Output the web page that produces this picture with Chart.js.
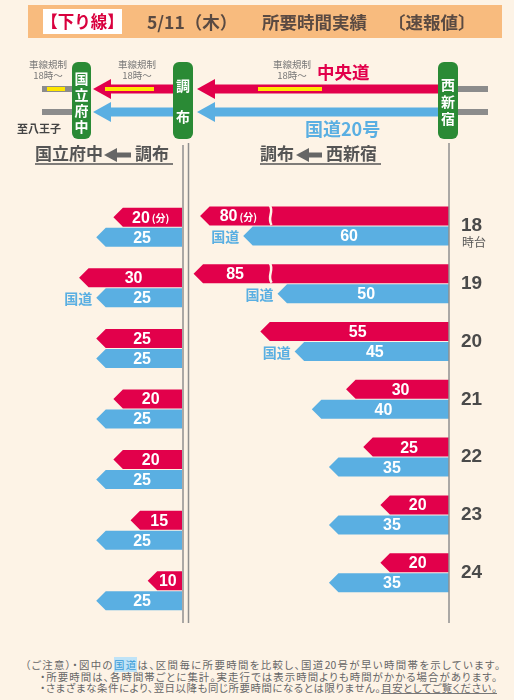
<!DOCTYPE html>
<html lang="ja">
<head>
<meta charset="utf-8">
<title>下り線 所要時間実績</title>
<script src="https://cdn.jsdelivr.net/npm/chart.js@4.4.1/dist/chart.umd.min.js"></script>
<style>
  html, body { margin: 0; padding: 0; }
  body {
    width: 514px; height: 700px; overflow: hidden; position: relative;
    background: #fdf3e6;
    font-family: "Noto Sans CJK JP", "Noto Sans", sans-serif;
  }
  #diagram { position: absolute; left: 0; top: 0; z-index: 2; pointer-events: none; font-family: "Noto Sans CJK JP", sans-serif; }
  .chart-box { position: absolute; top: 140px; height: 485px; }
  #leftBox { left: 0; width: 186px; }
  #rightBox { left: 186px; width: 328px; }
  #notes {
    position: absolute; left: 25px; top: 659px;
    font-size: 10.4px; line-height: 11.6px; color: #666; white-space: nowrap;
    font-feature-settings: "palt";
  }
  #notes div { text-align: justify; text-align-last: justify; }
  #notes .first { width: 475px; }
  #notes .ind { margin-left: 15px; width: 457px; }
  #notes .hl { background: #bfe3f7; color: #3c9bd6; }
  #notes u { text-decoration-color: #777; }
</style>
</head>
<body>

<svg id="diagram" width="514" height="170" viewBox="0 0 514 170">
  <!-- title band -->
  <rect x="28" y="5" width="474" height="33" fill="#f8bb7e"/>
  <rect x="43" y="9" width="79" height="25" fill="#fff"/>
  <text x="82.5" y="28" text-anchor="middle" fill="#d9003e" font-size="16.5" font-weight="bold">【下り線】</text>
  <g fill="#5a4a42" font-size="17.5" font-weight="bold">
    <text x="147" y="28.5">5/11（木）</text>
    <text x="262" y="28.5">所要時間実績</text>
    <text x="388" y="28.5">〔速報値〕</text>
  </g>

  <!-- gray stubs -->
  <g stroke="#8c8c8c" stroke-width="6">
    <line x1="42" y1="89" x2="72" y2="89"/>
    <line x1="42" y1="112" x2="72" y2="112"/>
    <line x1="457" y1="89" x2="488" y2="89"/>
    <line x1="457" y1="112" x2="488" y2="112"/>
  </g>

  <!-- red arrows (中央道) -->
  <g fill="#e2004b">
    <rect x="212" y="84.5" width="227" height="9"/>
    <polygon points="197,89 215,79 215,99"/>
    <rect x="108" y="84.5" width="66" height="9"/>
    <polygon points="93,89 111,79 111,99"/>
  </g>
  <!-- blue arrows (国道20号) -->
  <g fill="#5aafe2">
    <rect x="212" y="107.5" width="227" height="9"/>
    <polygon points="197,112 215,102 215,122"/>
    <rect x="108" y="107.5" width="66" height="9"/>
    <polygon points="93,112 111,102 111,122"/>
  </g>
  <!-- lane restriction marks -->
  <g stroke="#ffe600" stroke-width="4">
    <line x1="47" y1="89" x2="65" y2="89"/>
    <line x1="105" y1="89" x2="154" y2="89"/>
    <line x1="258" y1="89" x2="322" y2="89"/>
  </g>

  <!-- stations -->
  <g fill="#2a8a35">
    <rect x="72" y="62" width="19" height="77" rx="6"/>
    <rect x="173" y="62" width="20" height="77" rx="6"/>
    <rect x="438" y="62" width="20" height="77" rx="6"/>
  </g>
  <g fill="#fff" font-size="14" font-weight="bold" text-anchor="middle">
    <text x="81.5" y="84">国</text>
    <text x="81.5" y="100">立</text>
    <text x="81.5" y="116">府</text>
    <text x="81.5" y="132">中</text>
    <text x="183" y="91">調</text>
    <text x="183" y="122">布</text>
    <text x="448" y="90">西</text>
    <text x="448" y="107">新</text>
    <text x="448" y="124">宿</text>
  </g>

  <!-- small notes -->
  <g fill="#777" font-size="9.5" text-anchor="middle">
    <text x="48" y="68">車線規制</text>
    <text x="48" y="79">18時～</text>
    <text x="137" y="68">車線規制</text>
    <text x="137" y="79">18時～</text>
    <text x="292" y="68">車線規制</text>
    <text x="292" y="79">18時～</text>
  </g>
  <text x="317" y="79" fill="#e2004b" font-size="17.5" font-weight="bold">中央道</text>
  <text x="305" y="136" fill="#5aafe2" font-size="18" font-weight="bold">国道20号</text>
  <text x="17" y="133" fill="#444" font-size="11" font-weight="bold">至八王子</text>

  <!-- section headings -->
  <g fill="#555" font-size="17" font-weight="bold">
    <text x="35" y="160">国立府中</text>
    <text x="135" y="160">調布</text>
    <text x="260" y="160">調布</text>
    <text x="326" y="160">西新宿</text>
  </g>
  <g fill="#666">
    <rect x="115" y="152.5" width="16" height="5"/>
    <polygon points="104,155 117,148 117,162"/>
    <rect x="307" y="152.5" width="15" height="5"/>
    <polygon points="296,155 309,148 309,162"/>
  </g>
  <g stroke="#555" stroke-width="1.5">
    <line x1="35" y1="164" x2="173" y2="164"/>
    <line x1="260" y1="164" x2="381" y2="164"/>
  </g>
</svg>

<div id="leftBox" class="chart-box"><canvas id="leftChart"></canvas></div>
<div id="rightBox" class="chart-box"><canvas id="rightChart"></canvas></div>

<div id="notes">
  <div class="first">（ご注意）・図中の<span class="hl">国道</span>は、区間毎に所要時間を比較し、国道20号が早い時間帯を示しています。</div>
  <div class="ind">・所要時間は、各時間帯ごとに集計。実走行では表示時間よりも時間がかかる場合があります。</div>
  <div class="ind">・さまざまな条件により、翌日以降も同じ所要時間になるとは限りません。<u>目安としてご覧ください。</u></div>
</div>

<script>
// travel time in minutes, per hour slot
const hours = ['18', '19', '20', '21', '22', '23', '24'];
const fuchuChuo = [20, 30, 25, 20, 20, 15, 10];       // 国立府中 ← 調布, 中央道
const fuchuRoute20 = [25, 25, 25, 25, 25, 25, 25];    // 国立府中 ← 調布, 国道20号
const shinjukuChuo = [80, 85, 55, 30, 25, 20, 20];    // 調布 ← 西新宿, 中央道
const shinjukuRoute20 = [60, 50, 45, 40, 35, 35, 35]; // 調布 ← 西新宿, 国道20号

const RED = '#e2004b';
const BLUE = '#5aafe2';
const CREAM = '#fdf3e6';
const NUM_FONT = '"Liberation Sans", Arial, sans-serif';
const JP_FONT = '"Noto Sans CJK JP", sans-serif';

Chart.defaults.font.family = NUM_FONT;

// linear scale that squeezes everything past breakAt (for the 80 / 85 bars)
class BrokenScale extends Chart.LinearScale {
    squash(v) {
        const brk = this.options.breakAt;
        const k = this.options.squeeze;
        if (brk == null || v <= brk) return v;
        return brk + (v - brk) * k;
    }
    getPixelForValue(value) {
        return super.getPixelForValue(this.squash(value));
    }
}
BrokenScale.id = 'broken';
BrokenScale.defaults = Chart.LinearScale.defaults;
Chart.register(BrokenScale);

// bars drawn as left-pointing arrows, with value labels
const arrowBars = {
    id: 'arrowBars',
    beforeDatasetDraw(chart, args) {
        const ctx = chart.ctx;
        const meta = args.meta;
        ctx.save();
        ctx.fillStyle = chart.data.datasets[args.index].backgroundColor;
        meta.data.forEach(bar => {
            const p = bar.getProps(['x', 'y', 'base', 'height'], true);
            const h = p.height / 2 - 0.5;
            const head = Math.min(h, p.base - p.x);
            ctx.beginPath();
            ctx.moveTo(p.base, p.y - h);
            ctx.lineTo(p.x + head, p.y - h);
            ctx.lineTo(p.x, p.y);
            ctx.lineTo(p.x + head, p.y + h);
            ctx.lineTo(p.base, p.y + h);
            ctx.closePath();
            ctx.fill();
        });
        ctx.restore();
        return false;
    },
    afterDatasetsDraw(chart, args, opts) {
        const ctx = chart.ctx;
        const xs = chart.scales.x;
        const brk = xs.options.breakAt;
        const chuo = chart.getDatasetMeta(0);
        const kokudo = chart.getDatasetMeta(1);
        ctx.save();
        ctx.textBaseline = 'middle';

        [chuo, kokudo].forEach((meta, di) => {
            const values = chart.data.datasets[di].data;
            meta.data.forEach((bar, i) => {
                const p = bar.getProps(['x', 'y', 'base', 'height'], true);
                let right = p.base;
                if (brk != null && values[i] > brk) {
                    // broken bar: squiggle mark, label sits left of it
                    const bx = xs.getPixelForValue(opts.markAt);
                    const top = p.y - p.height / 2 - 1;
                    const bot = p.y + p.height / 2 - 1;
                    ctx.strokeStyle = CREAM;
                    ctx.lineWidth = 2.5;
                    ctx.beginPath();
                    ctx.moveTo(bx - 1, top);
                    ctx.bezierCurveTo(bx + 4, top + 7, bx - 4, bot - 7, bx + 1, bot);
                    ctx.stroke();
                    right = bx;
                }
                const num = String(values[i]);
                const unit = (di === 0 && i === 0) ? '(分)' : '';
                ctx.font = 'bold 16px ' + NUM_FONT;
                const wNum = ctx.measureText(num).width;
                ctx.font = 'bold 10px ' + JP_FONT;
                const wUnit = unit ? ctx.measureText(unit).width + 2 : 0;
                let tx = (p.x + right) / 2 + 3 - (wNum + wUnit) / 2;
                ctx.fillStyle = '#fff';
                ctx.textAlign = 'left';
                ctx.font = 'bold 16px ' + NUM_FONT;
                ctx.fillText(num, tx, p.y + 1);
                if (unit) {
                    ctx.font = 'bold 10px ' + JP_FONT;
                    ctx.fillText(unit, tx + wNum + 2, p.y + 1);
                }
            });
        });

        // "国道" tag where route 20 was faster
        const fast = chart.data.datasets[1].data;
        const slow = chart.data.datasets[0].data;
        ctx.font = 'bold 14px ' + JP_FONT;
        ctx.textAlign = 'right';
        ctx.fillStyle = BLUE;
        kokudo.data.forEach((bar, i) => {
            if (fast[i] < slow[i]) {
                ctx.fillText('国道', bar.x - 4, bar.y + 1);
            }
        });
        ctx.restore();
    }
};

// vertical rules that frame each section
const dividers = {
    id: 'dividers',
    afterDraw(chart, args, opts) {
        const {ctx, chartArea} = chart;
        ctx.save();
        ctx.strokeStyle = '#8f8f8f';
        ctx.lineWidth = 1.5;
        opts.lines.forEach(side => {
            const x = side === 'left' ? chartArea.left - 1.5 : chartArea.right + opts.rightShift;
            ctx.beginPath();
            ctx.moveTo(x, opts.top);
            ctx.lineTo(x, chart.height - 2);
            ctx.stroke();
        });
        if (opts.hourSuffix) {
            const ys = chart.scales.y;
            ctx.fillStyle = '#555';
            ctx.font = '12px ' + JP_FONT;
            ctx.textAlign = 'left';
            ctx.textBaseline = 'middle';
            ctx.fillText(opts.hourSuffix, chartArea.right + 13, ys.getPixelForValue(0) + 17);
        }
        ctx.restore();
    }
};

function makeChart(canvasId, chuo, route20, xOpts, yOpts, padding, divOpts) {
    return new Chart(document.getElementById(canvasId), {
        type: 'bar',
        data: {
            labels: hours,
            datasets: [
                { label: '中央道', data: chuo, backgroundColor: RED },
                { label: '国道20号', data: route20, backgroundColor: BLUE }
            ]
        },
        options: {
            indexAxis: 'y',
            responsive: true,
            maintainAspectRatio: false,
            animation: false,
            datasets: { bar: { barThickness: 20 } },
            layout: { padding: padding },
            scales: { x: xOpts, y: yOpts },
            plugins: {
                legend: { display: false },
                tooltip: { enabled: false },
                arrowBars: { markAt: 52 },
                dividers: divOpts
            }
        },
        plugins: [arrowBars, dividers]
    });
}

makeChart('leftChart', fuchuChuo, fuchuRoute20,
    { type: 'linear', reverse: true, min: 0, max: 44.3, display: false },
    { type: 'category', display: false },
    { left: 30, right: 4, top: 57, bottom: 4 },
    { lines: ['right'], top: 5, rightShift: 1 });

makeChart('rightChart', shinjukuChuo, shinjukuRoute20,
    { type: 'broken', reverse: true, min: 0, max: 75.5, breakAt: 68, squeeze: 0.38, display: false },
    {
        type: 'category',
        position: 'right',
        grid: { display: false, drawTicks: false },
        border: { display: false },
        ticks: { color: '#4a4a4a', padding: 12, font: { size: 19, weight: 'bold' } },
        afterFit(scale) { scale.width = 65; }
    },
    { left: 4, right: 0, top: 57, bottom: 4 },
    { lines: ['left', 'right'], top: 3, rightShift: 0, hourSuffix: '時台' });
</script>
</body>
</html>
